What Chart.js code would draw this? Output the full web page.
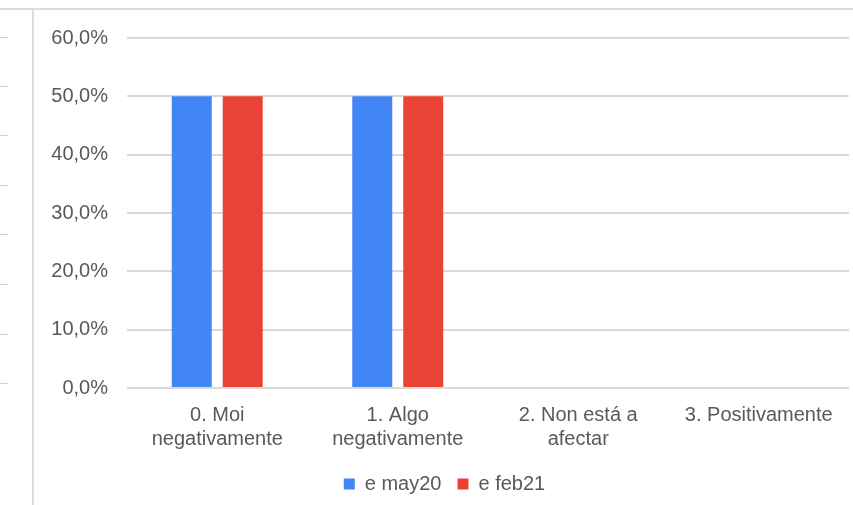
<!DOCTYPE html>
<html>
<head>
<meta charset="utf-8">
<script src="https://cdn.jsdelivr.net/npm/chart.js@4"></script>
<style>
  html, body { margin: 0; padding: 0; background: #fff; }
  #wrap { position: relative; width: 853px; height: 505px; overflow: hidden; }
  #topline { position: absolute; left: 0; top: 8px; width: 853px; height: 2px; background: #dcdcdc; }
  #sideline { position: absolute; left: 32px; top: 9px; width: 2px; height: 500px; background: #dcdcdc; }
  .tick { position: absolute; left: 0; width: 8px; height: 1px; background: #cfcfcf; }
  #box { position: absolute; left: 0; top: 0; width: 853px; height: 505px; }
</style>
</head>
<body>
<div id="wrap">
  <div id="box"><canvas id="chart"></canvas></div>
  <div id="topline"></div>
  <div id="sideline"></div>
</div>
<script>
  // categorías e series
  const categories = [
    ["0. Moi", "negativamente"],
    ["1. Algo", "negativamente"],
    ["2. Non está a", "afectar"],
    ["3. Positivamente"]
  ];
  const may20 = [50, 50, 0, 0];
  const feb21 = [50, 50, 0, 0];
  const seriesNames = ["e may20", "e feb21"];

  // marquiñas grises da gráfica da esquerda
  const leftTicks = [37, 86, 135, 185, 234, 284, 334, 383];
  leftTicks.forEach(y => {
    let d = document.createElement("div");
    d.className = "tick";
    d.style.top = y + "px";
    document.getElementById("wrap").appendChild(d);
  });

  const textColor = "#595959";
  const font = { family: "'Liberation Sans', Arial, sans-serif", size: 20 };

  let ctx = document.getElementById("chart").getContext("2d");
  let chart = new Chart(ctx, {
    type: "bar",
    data: {
      labels: categories,
      datasets: [
        {
          label: seriesNames[0],
          data: may20,
          backgroundColor: "#4285f4",
          categoryPercentage: 0.565,
          barPercentage: 0.784
        },
        {
          label: seriesNames[1],
          data: feb21,
          backgroundColor: "#ea4335",
          categoryPercentage: 0.565,
          barPercentage: 0.784
        }
      ]
    },
    options: {
      responsive: true,
      maintainAspectRatio: false,
      animation: false,
      layout: { padding: { left: 40, right: 4, top: 38, bottom: 1 } },
      plugins: {
        title: { display: false },
        tooltip: { enabled: false },
        legend: {
          position: "bottom",
          labels: {
            color: textColor,
            font: font,
            boxWidth: 11,
            boxHeight: 11,
            padding: 16
          }
        }
      },
      scales: {
        x: {
          grid: { display: false },
          border: { display: false },
          ticks: { color: textColor, font: font, maxRotation: 0, padding: 7 }
        },
        y: {
          min: 0,
          max: 60,
          afterFit: s => { s.width = 87; },
          grid: { color: "#d9d9d9", lineWidth: 2, drawTicks: false },
          border: { display: false },
          ticks: {
            stepSize: 10,
            color: textColor,
            font: font,
            padding: 19,
            callback: v => v.toFixed(1).replace(".", ",") + "%"
          }
        }
      }
    }
  });
</script>
</body>
</html>
